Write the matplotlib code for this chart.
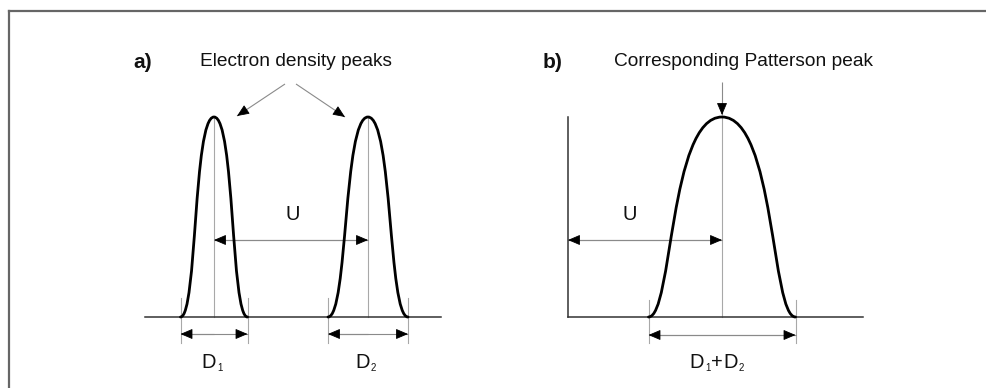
import math
import matplotlib
matplotlib.use("Agg")
import matplotlib.pyplot as plt
from matplotlib.path import Path
from matplotlib.patches import PathPatch
from matplotlib.lines import Line2D

plt.rcParams['font.family'] = ['Liberation Sans', 'DejaVu Sans']

# ---- data (diagram units: x along the axis, y = density, baseline 0, peak 200)
peak_centers = [214, 368]          # electron density peak positions (panel a)
peak_widths = [67, 80]             # D1, D2
peak_height = 200
peak_labels = [[('D', 14.5, 0), ('1', 7, -2)], [('D', 14.5, 0), ('2', 7, -2)]]
patterson_label = [('D', 14.5, 0), ('1', 7, -2), ('+', 14.5, 0), ('D', 14.5, 0), ('2', 7, -2)]
patterson_origin = 568             # origin of panel b
patterson_width = peak_widths[0] + peak_widths[1]
U = peak_centers[1] - peak_centers[0]
patterson_center = patterson_origin + U
baseline_a = [145, 441]
baseline_b_end = 863
panel_titles = ['a)', 'b)']
titles_x = [133, 543]
captions = ['Electron density peaks', 'Corresponding Patterson peak']
captions_x = [296, 743]
# bezier handle fractions (shape of drawn peaks)
elec_shape = (0.50, 0.62)
patt_shape = (0.33, 0.72)

fig = plt.figure(figsize=(9.87, 3.88), dpi=100)
ax = fig.add_axes([0, 0, 1, 1])
ax.set_xlim(0, 987)
ax.set_ylim(-71, 317)
ax.axis('off')

CURVE_KW = dict(color='black', lw=2.0, capstyle='round', joinstyle='round')
GRAY = '#a8a8a8'
AXIS_C = '#333333'
TXT = '#111111'


def peak(cx, w, h, shape):
    a, b = shape
    hw = w / 2.0
    verts = [(cx - hw, 0), (cx - hw + a * hw, 0), (cx - b * hw, h), (cx, h),
             (cx + b * hw, h), (cx + hw - a * hw, 0), (cx + hw, 0)]
    codes = [Path.MOVETO] + [Path.CURVE4] * 6
    ax.add_patch(PathPatch(Path(verts, codes), fill=False, zorder=4, **CURVE_KW))


def arrow(x0, y0, x1, y1):
    ax.plot([x0, x1], [y0, y1], color='#8a8a8a', lw=0.8, zorder=2,
            solid_capstyle='butt')
    L = math.hypot(x1 - x0, y1 - y0)
    hl = 11.0
    sx = x1 - (x1 - x0) / L * hl
    sy = y1 - (y1 - y0) / L * hl
    ax.annotate('', xy=(x1, y1), xytext=(sx, sy),
                arrowprops=dict(arrowstyle='-|>,head_length=0.75,head_width=0.32',
                                color='black', lw=0.6, shrinkA=0, shrinkB=0),
                zorder=5)


def label(cx, y, parts, shift=-4, gap=0.5):
    texts = []
    for s, size, dy in parts:
        t = ax.annotate(s, xy=(cx, y), xycoords='data', xytext=(0, dy),
                        textcoords='offset points', ha='left', va='baseline',
                        fontsize=size, color=TXT)
        texts.append((t, dy))
    fig.canvas.draw()
    r = fig.canvas.get_renderer()
    widths = [t.get_window_extent(r).width * 72.0 / fig.dpi for t, _ in texts]
    total = sum(widths) + gap * (len(widths) - 1)
    x = -total / 2 + shift * 72.0 / fig.dpi
    for (t, dy), w in zip(texts, widths):
        t.xyann = (x, dy)
        x += w + gap


# ---- frame lines (top and left)
fig.add_artist(Line2D([9 / 987, 1], [1 - 11 / 388, 1 - 11 / 388], color='#666666', lw=1.6))
fig.add_artist(Line2D([9 / 987, 9 / 987], [0, 1 - 11 / 388], color='#666666', lw=1.6))

# ---- panel a
ax.plot(baseline_a, [0, 0], color=AXIS_C, lw=1.1, zorder=3)
for cx, w, lab in zip(peak_centers, peak_widths, peak_labels):
    ax.plot([cx, cx], [0, peak_height], color=GRAY, lw=0.8, zorder=1)
    peak(cx, w, peak_height, elec_shape)
    for xe in (cx - w / 2, cx + w / 2):
        ax.plot([xe, xe], [19, -26], color=GRAY, lw=0.8, zorder=1)
    arrow(cx, -17, cx - w / 2, -17)
    arrow(cx - w / 2, -17, cx + w / 2, -17)
    label(cx, -51, lab, shift=-2)

arrow(peak_centers[1], 77, peak_centers[0], 77)
arrow(peak_centers[0], 77, peak_centers[1], 77)
ax.text((peak_centers[0] + peak_centers[1]) / 2 + 2, 102, 'U', ha='center',
        va='center', fontsize=14.5, color=TXT)

# annotation arrows to electron density peaks
arrow(285, 233, 237, 201)
arrow(296, 233, 345, 200)

# ---- panel b
ax.plot([patterson_origin, patterson_origin], [0, peak_height], color=AXIS_C, lw=1.1, zorder=3)
ax.plot([patterson_origin, baseline_b_end], [0, 0], color=AXIS_C, lw=1.1, zorder=3)
ax.plot([patterson_center, patterson_center], [0, peak_height], color=GRAY, lw=0.8, zorder=1)
peak(patterson_center, patterson_width, peak_height, patt_shape)
pl = patterson_center - patterson_width / 2
pr = patterson_center + patterson_width / 2
for xe in (pl, pr):
    ax.plot([xe, xe], [17, -26], color=GRAY, lw=0.8, zorder=1)
arrow(pr, -18, pl, -18)
arrow(pl, -18, pr, -18)
label(patterson_center, -51, patterson_label, shift=-5)

arrow(patterson_center, 77, patterson_origin, 77)
arrow(patterson_origin, 77, patterson_center, 77)
ax.text(630, 102, 'U', ha='center', va='center', fontsize=14.5, color=TXT)

arrow(patterson_center, 235, patterson_center, 202)

# ---- titles
for t, tx, c, cxp in zip(panel_titles, titles_x, captions, captions_x):
    ax.text(tx, 255, t, ha='left', va='center', fontsize=15, fontweight='bold', color=TXT)
    ax.text(cxp, 255, c, ha='center', va='center', fontsize=13.8, color=TXT)

fig.savefig('out.png', dpi=100)
